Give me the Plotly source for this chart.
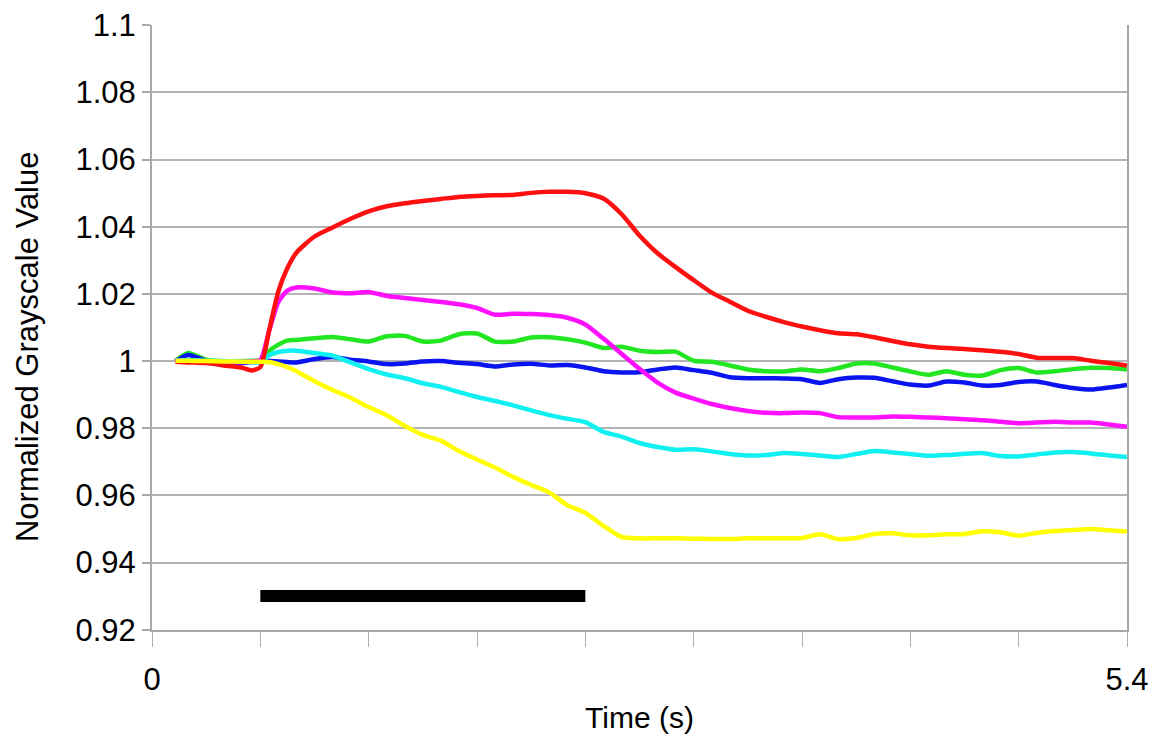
import plotly.graph_objects as go

time_s = [0.13, 0.2, 0.3, 0.4, 0.5, 0.55, 0.6, 0.65, 0.7, 0.75, 0.8,
          0.9, 1.0, 1.1, 1.2, 1.3, 1.4, 1.5, 1.6, 1.7, 1.8, 1.9, 2.0,
          2.1, 2.2, 2.3, 2.4, 2.5, 2.6, 2.7, 2.8, 2.9, 3.0, 3.1, 3.2,
          3.3, 3.4, 3.5, 3.6, 3.7, 3.8, 3.9, 4.0, 4.1, 4.2, 4.3, 4.4,
          4.5, 4.6, 4.7, 4.8, 4.9, 5.0, 5.1, 5.2, 5.3, 5.4]

red = [0.9998, 0.9996, 0.9994, 0.9987, 0.9980, 0.9972, 0.9982, 1.0094, 1.0208, 1.0277, 1.0323,
       1.0371, 1.0398, 1.0424, 1.0446, 1.0461, 1.0470, 1.0477, 1.0483, 1.0489, 1.0492, 1.0494, 1.0495,
       1.0501, 1.0504, 1.0504, 1.0500, 1.0484, 1.0438, 1.0374, 1.0321, 1.0280, 1.0241, 1.0204, 1.0177,
       1.0150, 1.0132, 1.0116, 1.0103, 1.0092, 1.0083, 1.0080, 1.0071, 1.0060, 1.0050, 1.0043, 1.0039,
       1.0036, 1.0032, 1.0028, 1.0021, 1.0010, 1.0009, 1.0009, 1.0001, 0.9994, 0.9987]

magenta = [1.0000, 0.9999, 0.9997, 0.9996, 0.9997, 0.9999, 1.0003, 1.0092, 1.0176, 1.0210, 1.0219,
           1.0216, 1.0204, 1.0202, 1.0206, 1.0194, 1.0188, 1.0182, 1.0176, 1.0169, 1.0158, 1.0138, 1.0141,
           1.0140, 1.0137, 1.0129, 1.0109, 1.0067, 1.0022, 0.9977, 0.9936, 0.9906, 0.9888, 0.9872, 0.9860,
           0.9851, 0.9846, 0.9845, 0.9847, 0.9845, 0.9833, 0.9832, 0.9832, 0.9835, 0.9834, 0.9832, 0.9830,
           0.9827, 0.9824, 0.9819, 0.9815, 0.9817, 0.9819, 0.9817, 0.9817, 0.9811, 0.9804]

green = [1.0001, 1.0024, 1.0004, 0.9999, 1.0000, 1.0001, 1.0003, 1.0031, 1.0049, 1.0061, 1.0063,
         1.0068, 1.0072, 1.0065, 1.0058, 1.0074, 1.0075, 1.0058, 1.0061, 1.0080, 1.0082, 1.0058, 1.0058,
         1.0070, 1.0071, 1.0065, 1.0055, 1.0039, 1.0043, 1.0031, 1.0027, 1.0028, 1.0001, 0.9998, 0.9987,
         0.9975, 0.9970, 0.9969, 0.9975, 0.9970, 0.9979, 0.9993, 0.9993, 0.9981, 0.9969, 0.9959, 0.9970,
         0.9959, 0.9957, 0.9973, 0.9979, 0.9966, 0.9970, 0.9976, 0.9980, 0.9979, 0.9975]

blue = [0.9999, 1.0018, 1.0001, 0.9988, 0.9994, 0.9997, 0.9999, 1.0000, 0.9999, 0.9997, 0.9996,
        1.0006, 1.0012, 1.0004, 0.9999, 0.9991, 0.9993, 0.9999, 1.0000, 0.9995, 0.9991, 0.9984, 0.9990,
        0.9992, 0.9987, 0.9988, 0.9981, 0.9970, 0.9966, 0.9967, 0.9975, 0.9981, 0.9973, 0.9965, 0.9952,
        0.9949, 0.9949, 0.9948, 0.9946, 0.9935, 0.9946, 0.9951, 0.9950, 0.9940, 0.9930, 0.9927, 0.9939,
        0.9936, 0.9927, 0.9929, 0.9938, 0.9939, 0.9929, 0.9920, 0.9915, 0.9921, 0.9929]

cyan = [1.0000, 1.0003, 1.0001, 1.0000, 0.9999, 0.9997, 0.9996, 1.0018, 1.0027, 1.0031, 1.0031,
        1.0024, 1.0016, 0.9996, 0.9976, 0.9960, 0.9949, 0.9934, 0.9923, 0.9908, 0.9893, 0.9881, 0.9868,
        0.9853, 0.9839, 0.9828, 0.9818, 0.9789, 0.9775, 0.9756, 0.9744, 0.9736, 0.9737, 0.9731, 0.9723,
        0.9719, 0.9720, 0.9726, 0.9723, 0.9719, 0.9714, 0.9723, 0.9732, 0.9728, 0.9723, 0.9718, 0.9720,
        0.9724, 0.9726, 0.9717, 0.9716, 0.9722, 0.9728, 0.9729, 0.9725, 0.9719, 0.9714]

yellow = [1.0001, 1.0001, 1.0000, 0.9999, 0.9998, 0.9998, 0.9998, 0.9997, 0.9991, 0.9982, 0.9970,
          0.9940, 0.9914, 0.9891, 0.9863, 0.9839, 0.9807, 0.9780, 0.9763, 0.9732, 0.9707, 0.9683, 0.9655,
          0.9631, 0.9609, 0.9571, 0.9548, 0.9509, 0.9476, 0.9472, 0.9472, 0.9472, 0.9471, 0.9470, 0.9470,
          0.9472, 0.9472, 0.9472, 0.9473, 0.9484, 0.9470, 0.9473, 0.9485, 0.9487, 0.9481, 0.9481, 0.9484,
          0.9485, 0.9493, 0.9490, 0.9480, 0.9488, 0.9494, 0.9497, 0.9500, 0.9496, 0.9492]

stimulus_t = [0.6, 2.4]
stimulus_y = [0.93, 0.93]

x_tick_vals = [0, 0.6, 1.2, 1.8, 2.4, 3.0, 3.6, 4.2, 4.8, 5.4]
x_tick_text = ["0", "", "", "", "", "", "", "", "", "5.4"]
y_tick_vals = [0.92, 0.94, 0.96, 0.98, 1.0, 1.02, 1.04, 1.06, 1.08, 1.1]
y_tick_text = ["0.92", "0.94", "0.96", "0.98", "1", "1.02", "1.04", "1.06", "1.08", "1.1"]

series = [
    ("green", green, "#22e622"),
    ("blue", blue, "#0a14f0"),
    ("cyan", cyan, "#10f0f0"),
    ("magenta", magenta, "#ff10ff"),
    ("red", red, "#ff1010"),
    ("yellow", yellow, "#ffff00"),
]

FONT = "Liberation Sans, Arial, Helvetica, sans-serif"

fig = go.Figure()
for name, vals, col in series:
    fig.add_trace(go.Scatter(x=time_s, y=vals, mode="lines", name=name,
                             line=dict(color=col, width=4.5, shape="spline", smoothing=0.6)))

fig.add_trace(go.Scatter(x=stimulus_t, y=stimulus_y, mode="lines", name="stimulus",
                         line=dict(color="black", width=12)))

fig.update_layout(
    width=1160, height=726,
    margin=dict(l=144, r=41, t=17, b=104, autoexpand=False),
    paper_bgcolor="white", plot_bgcolor="white",
    showlegend=False,
    font=dict(family=FONT, color="black"),
    xaxis=dict(range=[0, 5.4], tickmode="array", tickvals=x_tick_vals, ticktext=x_tick_text,
               ticks="outside", ticklen=15, tickcolor="#b0b0b0", tickwidth=1,
               ticklabelstandoff=6,
               showgrid=False, zeroline=False, automargin=False,
               showline=True, linecolor="#a8a8a8", linewidth=2,
               tickfont=dict(size=31, family=FONT),
               title=dict(text="Time (s)", font=dict(size=30, family=FONT), standoff=12)),
    yaxis=dict(range=[0.9199, 1.1001], tickmode="array", tickvals=y_tick_vals, ticktext=y_tick_text,
               ticks="outside", ticklen=8, tickcolor="#a8a8a8", tickwidth=2,
               showgrid=True, gridcolor="#b4b4b4", gridwidth=2, zeroline=False, automargin=False,
               showline=True, mirror=True, linecolor="#a8a8a8", linewidth=2,
               tickfont=dict(size=31, family=FONT)),
    annotations=[dict(text="Normalized Grayscale Value", textangle=-90,
                      xref="paper", yref="paper", x=-0.127, y=0.468,
                      xanchor="center", yanchor="middle", showarrow=False,
                      font=dict(size=31, family=FONT, color="black"))],
)

fig.write_html("out.html")
